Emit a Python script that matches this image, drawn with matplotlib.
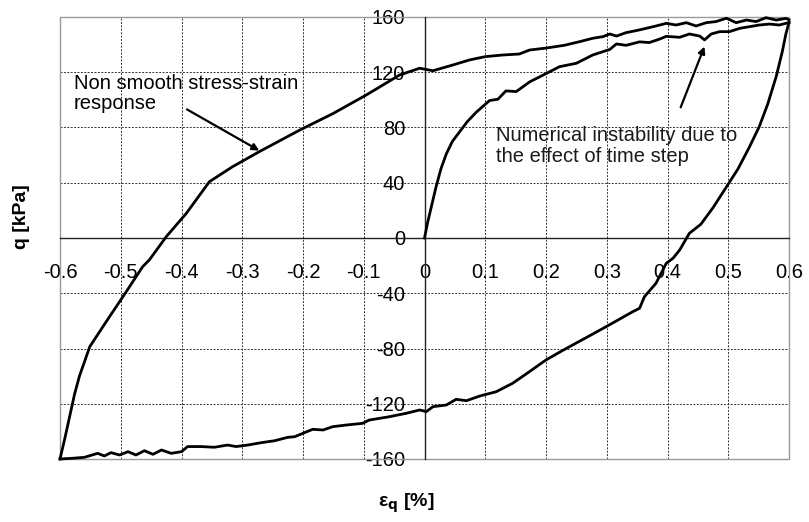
import matplotlib
matplotlib.use("Agg")
import matplotlib.pyplot as plt
from matplotlib.patches import Rectangle

plt.rcParams['font.family'] = ['Liberation Sans', 'DejaVu Sans']
plt.rcParams['axes.unicode_minus'] = False

# initial loading branch
load_x = [0, 0.005, 0.012, 0.019, 0.027, 0.036, 0.046, 0.058, 0.07, 0.085, 0.098, 0.107,
          0.121, 0.134, 0.151, 0.173, 0.2, 0.222, 0.25, 0.277, 0.305, 0.316, 0.332, 0.354,
          0.370, 0.387, 0.398, 0.420, 0.436, 0.453, 0.461, 0.472, 0.486, 0.502, 0.519,
          0.535, 0.551, 0.568, 0.584, 0.6]
load_q = [0, 11, 24, 37, 50, 61, 70, 77, 84, 91, 96, 99.5,
          100.5, 106.5, 106, 113, 119, 124, 126.5, 132.5, 136.5, 140.5, 139.5, 142,
          141.5, 144, 146, 145.3, 147.7, 146.2, 143.4, 147.7, 149.4, 149.4, 151.8,
          153, 154.2, 154.9, 154.2, 156]

# unloading branch
unload_x = [0.6, 0.595, 0.589, 0.579, 0.565, 0.551, 0.535, 0.516, 0.497, 0.475, 0.455,
            0.436, 0.42, 0.409, 0.398, 0.381, 0.362, 0.354, 0.343, 0.32, 0.299, 0.275,
            0.25, 0.225, 0.2, 0.172, 0.145, 0.118, 0.091, 0.069, 0.052, 0.036, 0.014,
            0.003, -0.008, -0.030, -0.058, -0.091, -0.102, -0.129, -0.151, -0.167,
            -0.184, -0.2, -0.214, -0.225, -0.247, -0.269, -0.291, -0.31, -0.324, -0.346,
            -0.368, -0.39, -0.4, -0.417, -0.433, -0.447, -0.461, -0.475, -0.488, -0.502,
            -0.516, -0.527, -0.538, -0.56, -0.58, -0.6]
unload_q = [156, 148, 135, 117, 97, 80.6, 66, 50, 37, 22, 10,
            3.4, -8.7, -14.7, -18.3, -32.8, -42.5, -50.9, -53.3, -59, -64.2, -70,
            -76, -82, -88.3, -97, -105.2, -111.3, -114.4, -117.8, -116.8, -120.9, -122.1,
            -125.7, -124.5, -126.9, -129.4, -131.8, -134.2, -135.4, -136.6, -139,
            -138.5, -141.4, -143.9, -144.3, -146.8, -148.2, -149.9, -151, -149.9, -151.5,
            -151, -151, -154.7, -155.9, -153.5, -156.6, -154, -157.1, -154.7, -157.1,
            -155.4, -157.8, -155.9, -158.8, -159.5, -160]

# reloading branch
reload_x = [-0.6, -0.592, -0.584, -0.576, -0.568, -0.551, -0.524, -0.491, -0.464, -0.453,
            -0.425, -0.392, -0.354, -0.316, -0.272, -0.24, -0.206, -0.151, -0.096, -0.041,
            -0.008, 0.014, 0.047, 0.074, 0.1, 0.129, 0.156, 0.173, 0.2, 0.23, 0.255,
            0.277, 0.294, 0.305, 0.316, 0.332, 0.348, 0.365, 0.381, 0.398, 0.414, 0.431,
            0.447, 0.464, 0.480, 0.497, 0.513, 0.530, 0.546, 0.562, 0.579, 0.595, 0.6]
reload_q = [-160, -145, -129, -113, -100, -78.7, -60.6, -38.9, -20.8, -15.9,
            1, 17.9, 40.8, 51.6, 62.5, 70, 78, 90, 103.5, 118,
            122.9, 121.1, 125.3, 128.9, 131.3, 132.5, 133.2, 136.1, 137.5, 139.5, 142.1,
            144.6, 145.8, 147.7, 146.2, 148.7, 150.1, 151.8, 153.5, 155.4, 154.2, 155.9,
            153.5, 155.9, 156.7, 159.1, 155.9, 157.8, 156.7, 159.5, 157.8, 159, 158]

x_ticks = [-0.6, -0.5, -0.4, -0.3, -0.2, -0.1, 0, 0.1, 0.2, 0.3, 0.4, 0.5, 0.6]
x_labels = ["-0.6", "-0.5", "-0.4", "-0.3", "-0.2", "-0.1", "0", "0.1", "0.2", "0.3", "0.4", "0.5", "0.6"]
y_ticks = [-160, -120, -80, -40, 0, 40, 80, 120, 160]

fig = plt.figure(figsize=(8.09, 5.22), dpi=100)
ax = fig.add_axes([60 / 809, 1 - 459 / 522, 729 / 809, 442 / 522])

for xs, qs in [(load_x, load_q), (unload_x, unload_q), (reload_x, reload_q)]:
    ax.plot(xs, qs, color='black', lw=2, clip_on=False, zorder=3)

ax.set_xlim(-0.6, 0.6)
ax.set_ylim(-160, 160)
ax.set_xticks(x_ticks)
ax.set_xticklabels(x_labels)
ax.set_yticks(y_ticks)

ax.grid(True, color='#333333', lw=0.7, ls=(0, (2, 1.5)))
for gl in (ax.get_xgridlines()[0], ax.get_xgridlines()[-1],
           ax.get_ygridlines()[0], ax.get_ygridlines()[-1]):
    gl.set_visible(False)

# axes through the origin, grey outer frame
ax.spines['left'].set_position(('data', 0))
ax.spines['bottom'].set_position(('data', 0))
for s in ('left', 'bottom'):
    ax.spines[s].set_color('#222222')
    ax.spines[s].set_linewidth(1)
    ax.spines[s].set_zorder(2.5)
ax.spines['right'].set_visible(False)
ax.spines['top'].set_visible(False)
ax.add_patch(Rectangle((0, 0), 1, 1, transform=ax.transAxes, fill=False,
                       ec='#999999', lw=1, clip_on=False, zorder=2))

ax.tick_params(axis='y', length=0, pad=14, labelsize=14.5)
ax.tick_params(axis='x', length=0, pad=18, labelsize=14.5)

# annotations
ax.annotate('', xy=(-0.268, 62.3), xytext=(-0.395, 94.1),
            arrowprops=dict(arrowstyle='-|>', color='black', lw=1.6, mutation_scale=10))
ax.text(-0.577, 119, 'Non smooth stress-strain\nresponse', fontsize=14.5,
        ha='left', va='top', linespacing=1.12)

ax.annotate('', xy=(0.4625, 140.5), xytext=(0.42, 92.7),
            arrowprops=dict(arrowstyle='-|>', color='black', lw=1.6, mutation_scale=10))
ax.text(0.117, 81, 'Numerical instability due to\nthe effect of time step', fontsize=14.5,
        ha='left', va='top', linespacing=1.12, color='#1a1a1a')

fig.text(22 / 809, 1 - 217 / 522, 'q [kPa]', rotation=90, fontsize=14,
         fontweight='bold', ha='center', va='center')
fig.text(406 / 809, 1 - 503 / 522, 'ε$_\\mathbf{q}$ [%]', fontsize=14,
         fontweight='bold', ha='center', va='center')

fig.savefig('out.png', dpi=100)
